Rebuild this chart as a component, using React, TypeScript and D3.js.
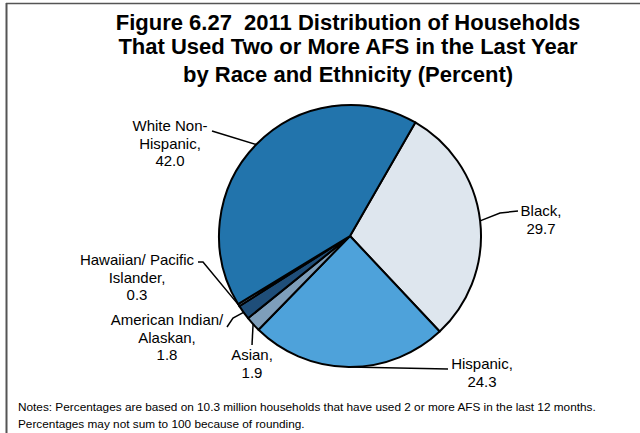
import React from "react";
import * as d3 from "d3";

const categories = ["Black", "Hispanic", "Asian", "American Indian/ Alaskan", "Hawaiian/ Pacific Islander", "White Non-Hispanic"];
const values = [29.7, 24.3, 1.9, 1.8, 0.3, 42.0];
const labelLines = [
  ["Black,", "29.7"],
  ["Hispanic,", "24.3"],
  ["Asian,", "1.9"],
  ["American Indian/", "Alaskan,", "1.8"],
  ["Hawaiian/ Pacific", "Islander,", "0.3"],
  ["White Non-", "Hispanic,", "42.0"],
];
const colors = ["#DEE6EE", "#4EA2DA", "#7E9EBA", "#1F4E79", "#A6CBE8", "#2274AC"];
const titleLines = [
  "Figure 6.27  2011 Distribution of Households",
  "That Used Two or More AFS in the Last Year",
  "by Race and Ethnicity (Percent)",
];
const notes = [
  "Notes: Percentages are based on 10.3 million households that have used 2 or more AFS in the last 12 months.",
  "Percentages may not sum to 100 because of rounding.",
];

// layout (positions only)
const W = 640, H = 433;
const cx = 350, cy = 236, R = 131;
const startDeg = 29.9;
const labelPos = [
  { x: 541, y: 216, anchor: "middle", leader: [[518, 211], [500, 213]] },
  { x: 482, y: 369, anchor: "middle", leader: [[448, 369]] },
  { x: 252, y: 360, anchor: "middle", leader: [[252, 345]] },
  { x: 167, y: 325, anchor: "middle", leader: [[227, 327], [233, 318]] },
  { x: 137, y: 265, anchor: "middle", leader: [[198, 262], [203, 262]] },
  { x: 170, y: 131, anchor: "middle", leader: [[212, 131]] },
];

export default function App() {
  const pie = d3
    .pie<number>()
    .sort(null)
    .value((d) => d)
    .startAngle((startDeg * Math.PI) / 180)
    .endAngle((startDeg * Math.PI) / 180 + 2 * Math.PI);
  const arcs = pie(values);
  const arc = d3.arc<d3.PieArcDatum<number>>().innerRadius(0).outerRadius(R);
  const lineGen = d3.line();

  return (
    <svg width={W} height={H} style={{ position: "absolute", left: 0, top: 0, background: "#fff" }}>
      <rect x={0} y={0} width={W} height={H} fill="#fff" />
      <line x1={6} y1={3.5} x2={W} y2={3.5} stroke="#555" strokeWidth={1.5} />
      <line x1={6.5} y1={3} x2={6.5} y2={H} stroke="#555" strokeWidth={2} />
      <g fontFamily="'Liberation Sans', Arial, sans-serif" fontWeight="bold" fontSize={22} textAnchor="middle" fill="#000" style={{ whiteSpace: "pre" }}>
        {titleLines.map((t, i) => (
          <text key={i} x={348} y={[30, 54, 82][i]} xmlSpace="preserve">{t}</text>
        ))}
      </g>
      <g transform={`translate(${cx},${cy})`}>
        {arcs.map((a, i) => (
          <path key={categories[i]} d={arc(a) || ""} fill={colors[i]} stroke="#000" strokeWidth={2} strokeLinejoin="round" />
        ))}
      </g>
      <g fill="none" stroke="#000" strokeWidth={1.5}>
        {arcs.map((a, i) => {
          const mid = (a.startAngle + a.endAngle) / 2;
          const ex = cx + R * Math.sin(mid);
          const ey = cy - R * Math.cos(mid);
          const pts = [...labelPos[i].leader, [ex, ey]] as [number, number][];
          return <path key={i} d={lineGen(pts) || ""} />;
        })}
      </g>
      <g fontFamily="'Liberation Sans', Arial, sans-serif" fontSize={15} fill="#000">
        {labelLines.map((lines, i) => (
          <text key={i} textAnchor={labelPos[i].anchor as any}>
            {lines.map((l, j) => (
              <tspan key={j} x={labelPos[i].x} y={labelPos[i].y + j * 17.5}>{l}</tspan>
            ))}
          </text>
        ))}
      </g>
      <g fontFamily="'Liberation Sans', Arial, sans-serif" fontSize={11.8} fill="#000">
        {notes.map((n, i) => (
          <text key={i} x={18} y={411 + i * 17}>{n}</text>
        ))}
      </g>
    </svg>
  );
}
